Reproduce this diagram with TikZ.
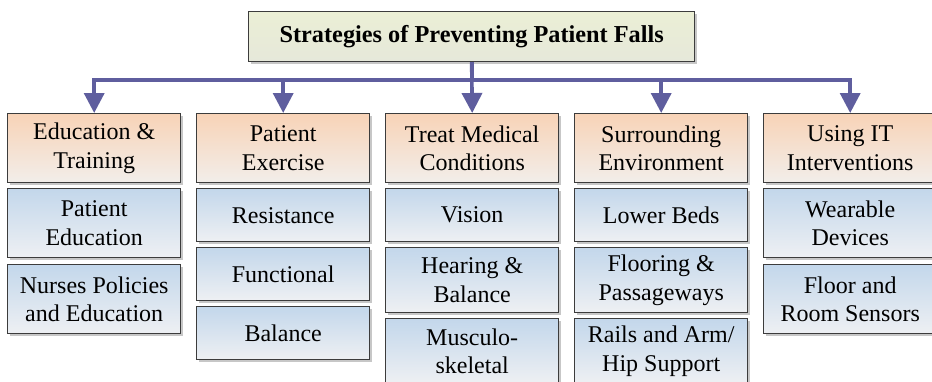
\documentclass[tikz,border=0pt]{standalone}
\usepackage{fontspec}
\setmainfont{Liberation Serif}
\usetikzlibrary{arrows.meta,shadows}
\definecolor{boxline}{HTML}{3C3C3C}
\definecolor{hdrtop}{HTML}{F8D3B7}
\definecolor{hdrbot}{HTML}{F2EEEA}
\definecolor{subtop}{HTML}{C3D7EB}
\definecolor{subbot}{HTML}{EEF0F3}
\definecolor{ttltop}{HTML}{EBEFD5}
\definecolor{ttlbot}{HTML}{E6E8DA}
\definecolor{link}{HTML}{5F5E9E}
\tikzset{
  box/.style={draw=boxline, line width=1.4pt, inner sep=0pt, align=center,
    anchor=north west, minimum width=173pt,
    font=\fontsize{24}{28.5}\selectfont,
    drop shadow={shadow xshift=2.5pt, shadow yshift=-2.5pt, opacity=0.22, fill=black}},
  hdr/.style={box, top color=hdrtop, bottom color=hdrbot, minimum height=69pt},
  sub/.style={box, top color=subtop, bottom color=subbot},
  one/.style={sub, minimum height=53pt},
  two/.style={sub, minimum height=65pt},
  tall/.style={sub, minimum height=69pt},
  ttl/.style={box, top color=ttltop, bottom color=ttlbot, minimum width=446pt,
    minimum height=50pt, font=\fontsize{24.3}{28}\selectfont\bfseries},
  branch/.style={draw=link, line width=3.6pt,
    -{Triangle[width=20pt,length=20pt]}}
}
\begin{document}
\begin{tikzpicture}[x=1pt,y=-1pt]
\clip (0,0) rectangle (932,381);
\fill[white] (0,0) rectangle (932,381);

% title
\node[ttl] (title) at (248,11) {Strategies of Preventing Patient Falls};

% category headers
\node[hdr] (h1) at (7,113)   {Education \&\\Training};
\node[hdr] (h2) at (196,113) {Patient\\Exercise};
\node[hdr] (h3) at (385,113) {Treat Medical\\Conditions};
\node[hdr] (h4) at (574,113) {Surrounding\\Environment};
\node[hdr] (h5) at (763,113) {Using IT\\Interventions};

% column 1
\node[tall] (a1) at (7,188) {Patient\\Education};
\node[tall] (a2) at (7,264) {Nurses Policies\\and Education};
% column 2
\node[one] (b1) at (196,188) {Resistance};
\node[one] (b2) at (196,247) {Functional};
\node[one] (b3) at (196,306) {Balance};
% column 3
\node[one] (c1) at (385,188) {Vision};
\node[two] (c2) at (385,247) {Hearing \&\\Balance};
\node[two] (c3) at (385,318) {Musculo-\\skeletal};
% column 4
\node[one] (d1) at (574,188) {Lower Beds};
\node[two] (d2) at (574,247) {Flooring \&\\Passageways};
\node[two] (d3) at (574,318) {Rails and Arm/\\Hip Support};
% column 5
\node[tall] (e1) at (763,188) {Wearable\\Devices};
\node[tall] (e2) at (763,264) {Floor and\\Room Sensors};

% connectors from the title to each header
\coordinate (bus) at (title.south |- 0,80);
\foreach \h in {h1,h2,h4,h5}
  \draw[branch, line join=miter] (title.south) -- (bus) -| (\h.north);
\draw[branch] (title.south) -- (h3.north);
\end{tikzpicture}
\end{document}
